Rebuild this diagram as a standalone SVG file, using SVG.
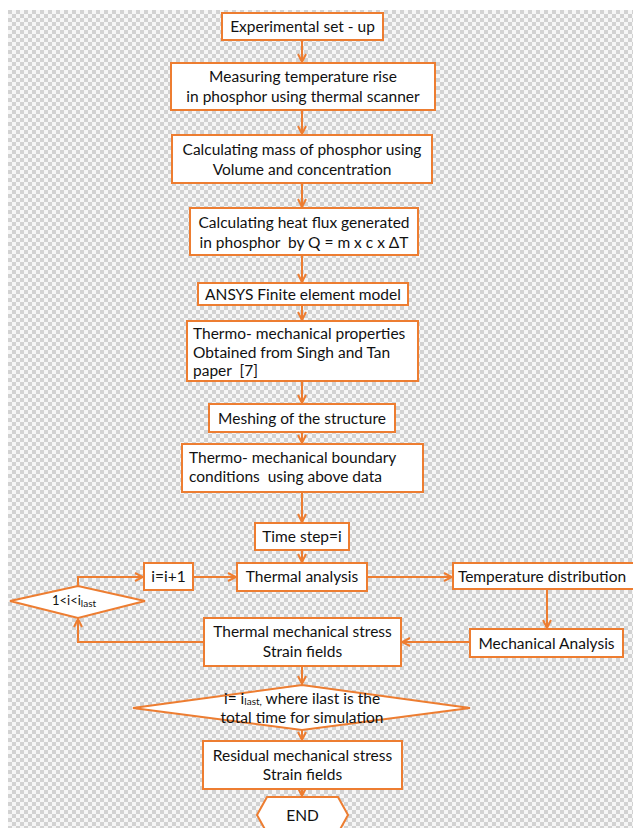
<svg xmlns="http://www.w3.org/2000/svg" width="633" height="828" viewBox="0 0 633 828">
<defs>
<pattern id="chk" x="8" y="10" width="8" height="8" patternUnits="userSpaceOnUse">
<rect width="8" height="8" fill="#f6f6f6"/>
<rect width="4" height="4" fill="#d2d2d2"/>
<rect x="4" y="4" width="4" height="4" fill="#d2d2d2"/>
</pattern>
<marker id="arr" viewBox="0 0 10 10" refX="9" refY="5" markerWidth="10" markerHeight="10" markerUnits="userSpaceOnUse" orient="auto">
<path d="M1,1 L9,5 L1,9" fill="none" stroke="#ED7D31" stroke-width="2"/>
</marker>
</defs>
<style>
.bx{fill:#fff;stroke:#ED7D31;stroke-width:2}
.t{font-family:Lato,"Liberation Sans",sans-serif;font-size:15.5px;fill:#111;white-space:pre}
.c{text-anchor:middle}
.sm{font-size:10px}
.cn{fill:none;stroke:#ED7D31;stroke-width:2;marker-end:url(#arr)}
</style>
<rect width="633" height="828" fill="#fff"/>
<rect x="8" y="10" width="625" height="818" fill="url(#chk)"/>

<g id="connectors">
<path class="cn" d="M302,40 V62"/>
<path class="cn" d="M302,110 V134"/>
<path class="cn" d="M302,183 V207"/>
<path class="cn" d="M302,255 V282"/>
<path class="cn" d="M302,305 V320"/>
<path class="cn" d="M302,381 V403"/>
<path class="cn" d="M302,432 V443"/>
<path class="cn" d="M302,492 V522"/>
<path class="cn" d="M302,550 V562"/>
<path class="cn" d="M367,577 H452"/>
<path class="cn" d="M547,589 V628"/>
<path class="cn" d="M470,642 H402"/>
<path class="cn" d="M204,642 H78 V619"/>
<path class="cn" d="M78,586 V577 H143"/>
<path class="cn" d="M193,577 H236"/>
<path class="cn" d="M302,666 V684"/>
<path class="cn" d="M302,730 V740"/>
<path class="cn" d="M302,789 V796"/>
</g>

<g id="n1"><rect class="bx" x="222" y="13" width="161" height="27"/>
<text class="t c" x="302.5" y="32">Experimental set - up</text></g>

<g id="n2"><rect class="bx" x="171" y="63" width="264" height="47"/>
<text class="t c" x="303" y="82">Measuring temperature rise</text>
<text class="t c" x="303" y="102">in phosphor using thermal scanner</text></g>

<g id="n3"><rect class="bx" x="172" y="135" width="260" height="48"/>
<text class="t c" x="302" y="155">Calculating mass of phosphor using</text>
<text class="t c" x="302" y="175">Volume and concentration</text></g>

<g id="n4"><rect class="bx" x="190" y="208" width="228" height="47"/>
<text class="t c" x="304" y="228">Calculating heat flux generated</text>
<text class="t c" x="304" y="248">in phosphor  by Q = m x c x ΔT</text></g>

<g id="n5"><rect class="bx" x="198" y="283" width="210" height="22"/>
<text class="t c" x="303" y="299.5">ANSYS Finite element model</text></g>

<g id="n6"><rect class="bx" x="187" y="321" width="231" height="60"/>
<text class="t" x="193" y="339">Thermo- mechanical properties</text>
<text class="t" x="193" y="358">Obtained from Singh and Tan</text>
<text class="t" x="193" y="376">paper  [7]</text></g>

<g id="n7"><rect class="bx" x="209" y="404" width="186" height="28"/>
<text class="t c" x="302" y="424">Meshing of the structure</text></g>

<g id="n8"><rect class="bx" x="182" y="444" width="241" height="48"/>
<text class="t" x="189" y="463">Thermo- mechanical boundary</text>
<text class="t" x="189" y="482">conditions  using above data</text></g>

<g id="n9"><rect class="bx" x="255" y="523" width="94" height="27"/>
<text class="t c" x="302" y="542">Time step=i</text></g>

<g id="n10"><rect class="bx" x="237" y="563" width="130" height="28"/>
<text class="t c" x="302" y="582">Thermal analysis</text></g>

<g id="n11"><rect class="bx" x="144" y="563" width="49" height="27"/>
<text class="t c" x="168.5" y="582">i=i+1</text></g>

<g id="n12"><rect class="bx" x="453" y="563" width="182" height="26"/>
<text class="t c" x="542" y="582">Temperature distribution</text></g>

<g id="n13"><polygon class="bx" points="10,601 78,586 145,601 78,618"/>
<text class="t c" x="74" y="605" style="font-size:13px">1&lt;i&lt;i<tspan class="sm" dy="2">last</tspan></text></g>

<g id="n14"><rect class="bx" x="204" y="618" width="197" height="48"/>
<text class="t c" x="302.5" y="637">Thermal mechanical stress</text>
<text class="t c" x="302.5" y="657">Strain fields</text></g>

<g id="n15"><rect class="bx" x="470" y="629" width="153" height="28"/>
<text class="t c" x="546.5" y="649">Mechanical Analysis</text></g>

<g id="n16"><polygon class="bx" points="133,708 302,685 470,708 302,730"/>
<text class="t c" x="302" y="704" style="font-size:15.5px">i= i<tspan class="sm" dy="1">last,</tspan><tspan dy="-1"> where ilast is the</tspan></text>
<text class="t c" x="302" y="723" style="font-size:15.5px">total time for simulation</text></g>

<g id="n17"><rect class="bx" x="203" y="741" width="199" height="48"/>
<text class="t c" x="302.5" y="761">Residual mechanical stress</text>
<text class="t c" x="302.5" y="780">Strain fields</text></g>

<g id="n18"><polygon class="bx" points="257,815 267,797 338,797 348,815 338,833 267,833"/>
<text class="t c" x="302.5" y="821">END</text></g>
</svg>
